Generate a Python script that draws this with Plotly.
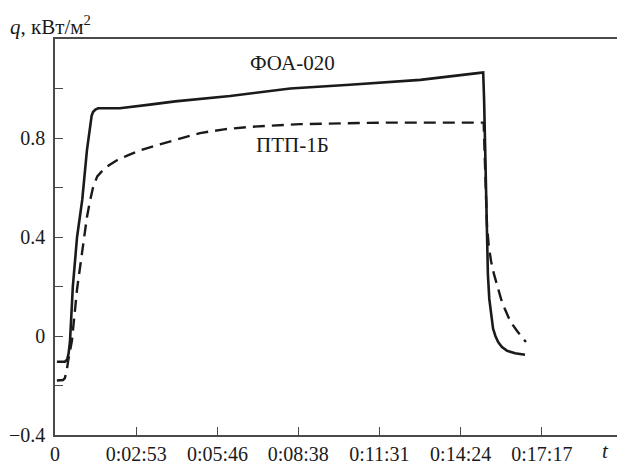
import plotly.graph_objects as go

# time in seconds
t_foa = [4, 21, 26, 29, 32, 38, 47, 58, 68, 75, 78, 81, 86, 92, 138, 202, 256, 373, 437, 501, 628, 778, 900, 912,
         914, 916, 918, 920, 922, 925, 929, 933, 938, 944, 952, 963, 980, 1001]
q_foa = [-0.104, -0.104, -0.095, -0.07, -0.02, 0.2, 0.40, 0.55, 0.75, 0.86, 0.89, 0.905, 0.915, 0.92, 0.92, 0.935, 0.948,
         0.97, 0.985, 1.0, 1.015, 1.035, 1.062, 1.065,
         0.95, 0.75, 0.55, 0.38, 0.25, 0.15, 0.084, 0.03, 0.0, -0.025, -0.045, -0.06, -0.07, -0.076]

t_ptp = [4, 17, 21, 25, 28, 36, 47, 58, 68, 75, 81, 90, 102, 115, 132, 155, 181, 215, 251, 309, 360, 415, 522, 692, 913,
         915, 917, 920, 924, 929, 935, 942, 950, 958, 966, 975, 985, 1003]
q_ptp = [-0.18, -0.178, -0.17, -0.14, -0.10, -0.02, 0.19, 0.35, 0.48, 0.55, 0.60, 0.645, 0.67, 0.69, 0.71, 0.73, 0.75, 0.77,
         0.79, 0.82, 0.835, 0.845, 0.856, 0.862, 0.862,
         0.75, 0.6, 0.45, 0.36, 0.30, 0.25, 0.20, 0.15, 0.11, 0.075, 0.045, 0.018, -0.024]

x_tickvals = [0, 173, 346, 518, 691, 864, 1037]
x_ticktext = ["0", "0:02:53", "0:05:46", "0:08:38", "0:11:31", "0:14:24", "0:17:17"]
y_tickvals = [-0.4, 0, 0.4, 0.8]
y_ticktext = ["\u22120.4", "0", "0.4", "0.8"]
y_minor = [-0.2, 0.2, 0.6, 1.0]

FONT = "Liberation Serif"
INK = "#1a1a1a"
AX = "#4a4a4a"

fig = go.Figure()
fig.add_trace(go.Scatter(x=t_foa, y=q_foa, mode="lines", line=dict(color=INK, width=2.6),
                         showlegend=False))
fig.add_trace(go.Scatter(x=t_ptp, y=q_ptp, mode="lines", line=dict(color=INK, width=2.4, dash="12px,7px"),
                         showlegend=False))

fig.update_layout(
    width=617, height=465,
    margin=dict(l=55, r=0, t=39, b=24),
    paper_bgcolor="white", plot_bgcolor="white",
    font=dict(family=FONT, size=20, color=INK),
    xaxis=dict(range=[0, 1197], tickvals=x_tickvals, ticktext=x_ticktext, ticks="inside", ticklen=8,
               tickcolor=AX, tickwidth=1.3, showline=True, linecolor=AX, linewidth=1.5, mirror=True,
               showgrid=False, zeroline=False, tickfont=dict(family=FONT, size=20, color=INK)),
    yaxis=dict(range=[-0.4, 1.2], tickvals=y_tickvals, ticktext=y_ticktext, ticks="inside", ticklen=8,
               tickcolor=AX, tickwidth=1.3, showline=True, linecolor=AX, linewidth=1.5,
               showgrid=False, zeroline=False, ticklabelstandoff=4,
               minor=dict(tickvals=y_minor, ticks="inside", ticklen=8, tickcolor=AX, tickwidth=1.3),
               tickfont=dict(family=FONT, size=20, color=INK)),
)

fig.add_annotation(text="ФОА-020", x=505, y=1.104, xref="x", yref="y", showarrow=False,
                   font=dict(family=FONT, size=21, color=INK))
fig.add_annotation(text="ПТП-1Б", x=505, y=0.772, xref="x", yref="y", showarrow=False,
                   font=dict(family=FONT, size=21, color=INK))
fig.add_annotation(text="<i>q</i>, кВт/м<sup>2</sup>", x=-47 / 562, y=1 + 14 / 402, xref="paper", yref="paper",
                   xanchor="left", yanchor="middle", showarrow=False, font=dict(family=FONT, size=21, color=INK))
fig.add_annotation(text="<i>t</i>", x=1172, y=-0.4, xref="x", yref="y", yshift=-16, showarrow=False,
                   xanchor="center", yanchor="middle", font=dict(family=FONT, size=21, color=INK))

fig.write_html("out.html")
